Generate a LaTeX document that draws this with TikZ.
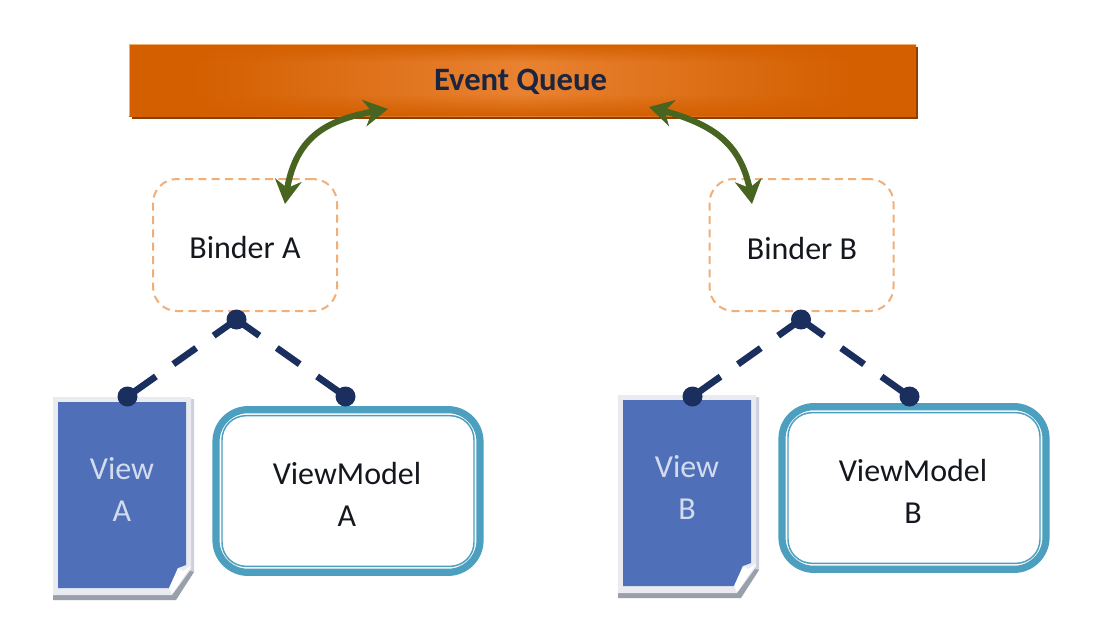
\documentclass[tikz,border=0pt]{standalone}
\usepackage{fontspec}
\setmainfont{Carlito}
\usetikzlibrary{arrows.meta,fadings,bending}
\definecolor{qdark}{HTML}{D35F00}
\definecolor{qlight}{HTML}{E98231}
\definecolor{qshadow}{HTML}{8A3E00}
\definecolor{qedge}{HTML}{F0B070}
\definecolor{ink}{HTML}{15171F}
\definecolor{qink}{HTML}{1C2540}
\definecolor{navy}{HTML}{1B2F5E}
\definecolor{arrowgreen}{HTML}{476420}
\definecolor{binderline}{HTML}{F0AE78}
\definecolor{teal}{HTML}{4C9FBE}
\definecolor{docblue}{HTML}{4F70B8}
\definecolor{docpale}{HTML}{E9EBF1}
\definecolor{docside}{HTML}{CDD0DC}
\definecolor{docshadow}{HTML}{9A9FAC}
\definecolor{viewtext}{HTML}{D3DCEE}
\pgfdeclarehorizontalshading{queueshade}{100bp}{color(0bp)=(qdark);color(29bp)=(qdark);color(50bp)=(qlight);color(71bp)=(qdark);color(100bp)=(qdark)}
\tikzfading[name=fadetodown,top color=transparent!100,bottom color=transparent!0]
\tikzfading[name=fadetoup,top color=transparent!0,bottom color=transparent!100]
\tikzset{
  x=0.75pt,y=-0.75pt,
  label text/.style={font=\fontsize{24}{31.5}\selectfont,align=center,text=ink,inner sep=0pt},
  view text/.style={label text,text=viewtext},
  binder/.style={draw=binderline,line width=1.5pt,dash pattern=on 6pt off 4pt,rounded corners=18pt,minimum width=138pt,minimum height=99pt,inner sep=0pt},
  vm outer/.style={draw=teal,line width=5.4pt,rounded corners=24pt,minimum width=198pt,minimum height=122pt,inner sep=0pt},
  vm inner/.style={draw=teal,line width=1.1pt,rounded corners=18pt,minimum width=189pt,minimum height=113pt,inner sep=0pt},
  dot/.style={circle,fill=navy,minimum size=15pt,inner sep=0pt},
  link/.style={draw=navy,line width=5pt,dash pattern=on 21pt off 16pt},
  sync/.style={draw=arrowgreen,line width=4.6pt,{Stealth[length=18pt,width=20pt,flex]}-{Stealth[length=18pt,width=20pt,flex]}},
  docpage/.pic={
    \fill[docside] (-5,-3) -- (136,-3) -- (136,170) -- (118,196) -- (-5,196) -- cycle;
    \fill[docshadow] (-5,190) -- (-5,198) -- (118,198) -- (136,170) -- (130,168) -- (114,192) -- cycle;
    \fill[docpale] (-5,-5) -- (133,-5) -- (133,167) -- (114,193) -- (-5,193) -- cycle;
    \fill[docblue] (0,0) -- (128,0) -- (128,163) -- (120,166) -- (112,186) -- (0,186) -- cycle;
    \fill[white] (120,166) -- (125,169) -- (133,164) -- (114,192) -- (111,186) -- cycle;
  }
}
\begin{document}
\begin{tikzpicture}
\useasboundingbox (0,0) rectangle (1118,626);
\fill[white] (0,0) rectangle (1118,626);
% queue
\fill[qshadow] (132,47) rectangle (918,119);
\shade[shading=queueshade] (129,44) rectangle (916,116);
\fill[qdark,path fading=fadetoup] (129,44) rectangle (916,62);
\fill[qdark,path fading=fadetodown] (129,94) rectangle (916,116);
\draw[qedge,line width=0.6pt] (129,116) -- (129,44) -- (916,44);
\node[label text,text=qink,font=\fontsize{24.5}{31.5}\selectfont\bfseries] (queue) at (520.5,81.5) {Event Queue};
% binders
\node[binder] (binderA) at (245,245) {};
\node[label text] (binderAtext) at (245,247) {Binder A};
\node[binder] (binderB) at (801.5,245) {};
\node[label text] (binderBtext) at (802,248) {Binder B};
% documents
\pic at (58,402) {docpage};
\pic at (623,400) {docpage};
\node[view text] (viewA) at (122,489) {View\\A};
\node[view text] (viewB) at (687,487) {View\\B};
% view models
\node[vm outer] (vmA) at (348,491) {};
\node[vm inner] (vmAinner) at (348,491) {};
\node[label text] (vmAtext) at (347,494) {ViewModel\\A};
\node[vm outer] (vmB) at (914,488) {};
\node[vm inner] (vmBinner) at (914,488) {};
\node[label text] (vmBtext) at (913,491) {ViewModel\\B};
% dots
\node[dot] (topA) at (236.5,319.5) {};
\node[dot] (leftA) at (127.5,396.5) {};
\node[dot] (rightA) at (345.5,396.5) {};
\node[dot] (topB) at (801,319.5) {};
\node[dot] (leftB) at (692.5,396.5) {};
\node[dot] (rightB) at (909.5,396.5) {};
\draw[link] (topA.center) -- (leftA.center);
\draw[link] (topA.center) -- (rightA.center);
\draw[link] (topB.center) -- (leftB.center);
\draw[link] (topB.center) -- (rightB.center);
% sync arrows
\coordinate (qa) at (388,109);
\coordinate (ba) at (285,204);
\coordinate (qb) at (649,107);
\coordinate (bb) at (752,204);
\draw[sync] (qa) .. controls (330,118) and (292,132) .. (ba);
\draw[sync] (qb) .. controls (710,122) and (745,140) .. (bb);
\end{tikzpicture}
\end{document}
